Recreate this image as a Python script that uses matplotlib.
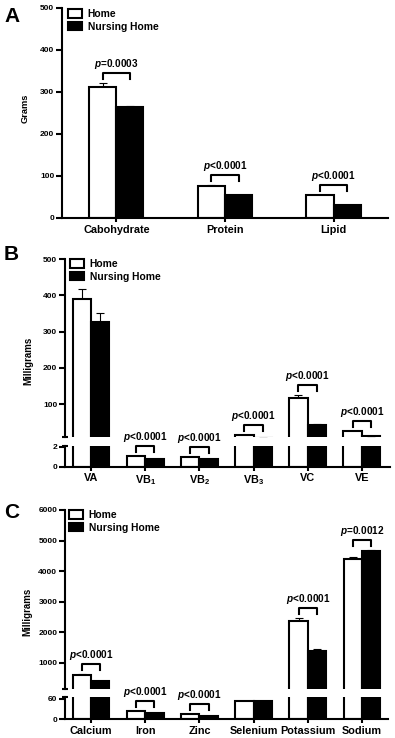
import numpy as np
import matplotlib
matplotlib.use('Agg')
from matplotlib import pyplot as plt
from matplotlib.lines import Line2D
from matplotlib.patches import Patch

# fonts: Arial-like bold everywhere, p in bold italic
plt.rcParams['font.family'] = ['Liberation Sans', 'DejaVu Sans']
plt.rcParams['font.weight'] = 'bold'
plt.rcParams['mathtext.fontset'] = 'custom'
plt.rcParams['mathtext.rm'] = 'Liberation Sans:bold'
plt.rcParams['mathtext.it'] = 'Liberation Sans:italic:bold'
plt.rcParams['mathtext.bf'] = 'Liberation Sans:bold'

# ---------------- data ----------------
# panel A (grams)
cats_a = ['Cabohydrate', 'Protein', 'Lipid']
home_a = [312, 75, 53]
home_a_err = [8, 2, 2]
nh_a = [263, 54, 30]
nh_a_err = [3, 1, 1]
p_a = ['=0.0003', '<0.0001', '<0.0001']

# panel B (milligrams)
cats_b = ['VA', 'VB$_1$', 'VB$_2$', 'VB$_3$', 'VC', 'VE']
home_b = [390, 1.04, 0.97, 15, 118, 25]
home_b_err = [26, 0.02, 0.02, 0.5, 7, 1]
nh_b = [325, 0.73, 0.76, 7, 42, 12]
nh_b_err = [25, 0.02, 0.02, 0.3, 2, 0.5]
p_b = ['', '<0.0001', '<0.0001', '<0.0001', '<0.0001', '<0.0001']

# panel C (milligrams)
cats_c = ['Calcium', 'Iron', 'Zinc', 'Selenium', 'Potassium', 'Sodium']
home_c = [600, 24, 15, 54, 2380, 4400]
home_c_err = [15, 0.5, 0.3, 0.5, 100, 50]
nh_c = [400, 18, 10, 52, 1400, 4670]
nh_c_err = [10, 0.5, 0.3, 0.5, 60, 30]
p_c = ['<0.0001', '<0.0001', '<0.0001', '', '<0.0001', '=0.0012']

# ---------------- figure ----------------
W, H = 395, 738
fig = plt.figure(figsize=(W / 100, H / 100), dpi=100)

LW = 1.5
TICK_FS = 6
CAT_FS = 7.8


def px_axes(left, top, right, bottom):
    return fig.add_axes([left / W, 1 - bottom / H, (right - left) / W, (bottom - top) / H])


def style_axes(ax, show_x):
    for s in ['top', 'right']:
        ax.spines[s].set_visible(False)
    ax.spines['left'].set_linewidth(LW)
    ax.spines['bottom'].set_linewidth(LW)
    ax.tick_params(axis='y', direction='out', length=4, width=LW, labelsize=TICK_FS, pad=1.5)
    if show_x:
        ax.tick_params(axis='x', direction='out', length=3, width=LW, labelsize=CAT_FS, pad=2)
    else:
        ax.spines['bottom'].set_visible(False)
        ax.tick_params(axis='x', bottom=False, labelbottom=False)


def draw_bars(ax, home, home_err, nh, nh_err, w):
    x = np.arange(len(home))
    ax.bar(x - w / 2, home, w, color='white', edgecolor='black', linewidth=LW, zorder=2)
    ax.bar(x + w / 2, nh, w, color='black', edgecolor='black', linewidth=LW, zorder=2)
    ax.errorbar(x - w / 2, home, yerr=[np.zeros(len(x)), home_err], fmt='none',
                ecolor='black', elinewidth=0.8, capsize=3, capthick=0.8, zorder=1)
    ax.errorbar(x + w / 2, nh, yerr=[np.zeros(len(x)), nh_err], fmt='none',
                ecolor='black', elinewidth=0.8, capsize=3, capthick=0.8, zorder=1)


def brackets(ax_hi, ax_lo, home, home_err, nh, nh_err, plabels, w):
    # bracket 10 px above the highest bar top, text just above it
    for i, lab in enumerate(plabels):
        if not lab:
            continue
        top = max(home[i] + home_err[i], nh[i] + nh_err[i])
        ax = ax_hi
        if ax_lo is not None and top <= ax_lo.get_ylim()[1]:
            ax = ax_lo
        x1, y0 = ax.transData.transform((i - w / 2, top))
        x2, _ = ax.transData.transform((i + w / 2, top))
        yb = y0 + 10
        xs = np.array([x1, x1, x2, x2]) / W
        ys = np.array([yb - 6, yb, yb, yb - 6]) / H
        fig.add_artist(Line2D(xs, ys, color='black', lw=1.5, transform=fig.transFigure))
        fig.text((x1 + x2) / 2 / W, (yb + 2) / H, '$p$' + lab, ha='center', va='bottom',
                 fontsize=7.2)


def add_legend(ax, dx, dy):
    handles = [Patch(facecolor='white', edgecolor='black', linewidth=LW),
               Patch(facecolor='black', edgecolor='black', linewidth=LW)]
    pos = ax.get_position()
    ax.legend(handles, ['Home', 'Nursing Home'], loc='upper left',
              bbox_to_anchor=(dx / (pos.width * W), 1 - dy / (pos.height * H)),
              frameon=False, fontsize=7.4, handlelength=1.4, handleheight=0.9,
              handletextpad=0.5, labelspacing=0.25, borderpad=0, borderaxespad=0)


def break_marks(ax_hi, ax_lo):
    lo_hi = ax_hi.get_ylim()[0]
    ax_hi.set_yticks([lo_hi], minor=True)
    ax_hi.tick_params(axis='y', which='minor', direction='inout', length=5, width=LW)
    top_lo = ax_lo.get_ylim()[1]
    ax_lo.set_yticks([top_lo], minor=True)
    ax_lo.tick_params(axis='y', which='minor', direction='inout', length=5, width=LW)
    ax_lo.tick_params(axis='x', which='minor', bottom=False)


# ---------------- panel A ----------------
axA = px_axes(62, 8, 388, 217.7)
draw_bars(axA, home_a, home_a_err, nh_a, nh_a_err, 0.25)
axA.set_xlim(-0.5, 2.5)
axA.set_ylim(0, 500)
axA.set_yticks([0, 100, 200, 300, 400, 500])
axA.set_xticks(np.arange(len(cats_a)))
axA.set_xticklabels(cats_a)
style_axes(axA, True)
add_legend(axA, 6, 1)
brackets(axA, None, home_a, home_a_err, nh_a, nh_a_err, p_a, 0.25)

# ---------------- panel B ----------------
axB = px_axes(65, 259, 390, 436.7)
axB2 = px_axes(65, 445.7, 390, 466.5)
for ax in (axB, axB2):
    draw_bars(ax, home_b, home_b_err, nh_b, nh_b_err, 0.34)
    ax.set_xlim(-0.48, 5.52)
axB.set_ylim(10, 500)
axB.set_yticks([100, 200, 300, 400, 500])
axB2.set_ylim(0, 2.1)
axB2.set_yticks([0, 2])
axB2.set_xticks(np.arange(len(cats_b)))
axB2.set_xticklabels(cats_b)
style_axes(axB, False)
style_axes(axB2, True)
break_marks(axB, axB2)
add_legend(axB, 5, 0)
brackets(axB, axB2, home_b, home_b_err, nh_b, nh_b_err, p_b, 0.34)

# ---------------- panel C ----------------
axC = px_axes(65, 510, 388, 689.3)
axC2 = px_axes(65, 696.7, 388, 719)
for ax in (axC, axC2):
    draw_bars(ax, home_c, home_c_err, nh_c, nh_c_err, 0.34)
    ax.set_xlim(-0.48, 5.48)
axC.set_ylim(130, 6000)
axC.set_yticks([1000, 2000, 3000, 4000, 5000, 6000])
axC2.set_ylim(0, 66)
axC2.set_yticks([0, 60])
axC2.set_xticks(np.arange(len(cats_c)))
axC2.set_xticklabels(cats_c)
style_axes(axC, False)
style_axes(axC2, True)
break_marks(axC, axC2)
add_legend(axC, 4, 0)
brackets(axC, axC2, home_c, home_c_err, nh_c, nh_c_err, p_c, 0.34)

# ---------------- labels ----------------
fig.text(4 / W, 1 - 16 / H, 'A', fontsize=15, fontweight='bold', va='center')
fig.text(4 / W, 1 - 255 / H, 'B', fontsize=15, fontweight='bold', va='center')
fig.text(4 / W, 1 - 512 / H, 'C', fontsize=15, fontweight='bold', va='center')
fig.text(25 / W, 1 - 108 / H, 'Grams', rotation=90, fontsize=6.7, ha='center', va='center')
fig.text(28 / W, 1 - 361 / H, 'Milligrams', rotation=90, fontsize=7, ha='center', va='center')
fig.text(27 / W, 1 - 612 / H, 'Milligrams', rotation=90, fontsize=7, ha='center', va='center')

fig.savefig('out.png', dpi=100)
